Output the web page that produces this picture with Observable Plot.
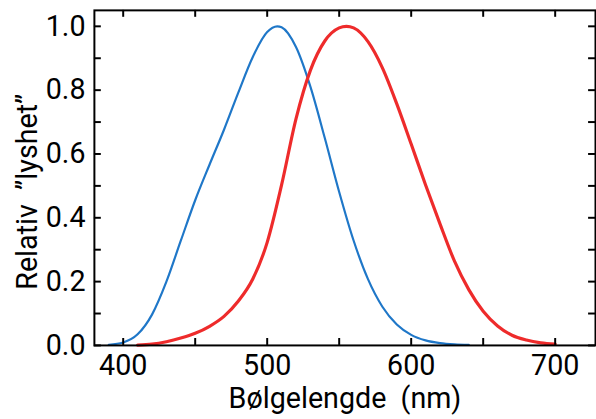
<!DOCTYPE html>
<html><head><meta charset="utf-8">
<script src="https://cdn.jsdelivr.net/npm/d3@7"></script>
<script src="https://cdn.jsdelivr.net/npm/@observablehq/plot@0.6"></script>
<style>
html,body{margin:0;padding:0;overflow:hidden;background:#fff;width:596px;height:419px}
</style>
</head><body><div id="chart"></div>
<script>
// Scotopic (blue) curve
const blueWavelengths = [390, 400, 410, 420, 430, 440, 450, 460, 470, 480, 490, 500, 507, 510, 520, 530, 540, 550, 560, 570, 580, 590, 600, 610, 620, 630, 640];
const scotopic = [0.0022, 0.0093, 0.0348, 0.0966, 0.1998, 0.3281, 0.455, 0.567, 0.676, 0.793, 0.904, 0.982, 1.0, 0.997, 0.935, 0.811, 0.650, 0.481, 0.3288, 0.2076, 0.1212, 0.0655, 0.0332, 0.0159, 0.0074, 0.0033, 0.0015];
// Photopic (red) curve
const redWavelengths = [410, 420, 430, 440, 450, 460, 470, 480, 490, 500, 510, 520, 530, 540, 550, 555, 560, 570, 580, 590, 600, 610, 620, 630, 640, 650, 660, 670, 680, 690, 700];
const photopic = [0.0012, 0.004, 0.0116, 0.023, 0.038, 0.060, 0.091, 0.139, 0.208, 0.323, 0.503, 0.710, 0.862, 0.954, 0.995, 1.0, 0.995, 0.952, 0.870, 0.757, 0.631, 0.503, 0.381, 0.265, 0.175, 0.107, 0.061, 0.032, 0.017, 0.0082, 0.0041];

const xTickLabels = [400, 500, 600, 700];
const xTickMarks = [400, 450, 500, 550, 600, 650, 700];
const yTickLabels = [0, 0.2, 0.4, 0.6, 0.8, 1.0];
const yTickMarks = [0, 0.1, 0.2, 0.3, 0.4, 0.5, 0.6, 0.7, 0.8, 0.9, 1.0];
const xTitle = "Bølgelengde\u00a0 (nm)";
const yTitle = "Relativ\u00a0 \u201dlyshet\u201d";

const blue = blueWavelengths.map((w, i) => ({w, v: scotopic[i]}));
const red = redWavelengths.map((w, i) => ({w, v: photopic[i]}));

const W = 603, H = 419, ML = 95, MR = 1, MT = 10, MB = 70;
const innerW = W - ML - MR, innerH = H - MT - MB;
const TICK = 7;
const FONT = 29;

const chart = Plot.plot({
  width: W, height: H,
  marginLeft: ML, marginRight: MR, marginTop: MT, marginBottom: MB,
  style: {fontFamily: "Roboto, 'Open Sans', sans-serif", fontSize: FONT + "px", color: "black", background: "white", overflow: "visible"},
  x: {domain: [380, 728]},
  y: {domain: [0, 1.05]},
  marks: [
    Plot.line(blue, {x: "w", y: "v", stroke: "#1f77c8", strokeWidth: 2.2, curve: "monotone-x"}),
    Plot.line(red, {x: "w", y: "v", stroke: "#ee2b2b", strokeWidth: 3.2, curve: "monotone-x"}),
    Plot.tickX(xTickMarks, {x: d => d, insetTop: innerH - TICK, stroke: "black", strokeWidth: 2}),
    Plot.tickX(xTickMarks, {x: d => d, insetBottom: innerH - TICK, stroke: "black", strokeWidth: 2}),
    Plot.tickY(yTickMarks, {y: d => d, insetRight: innerW - TICK, stroke: "black", strokeWidth: 2}),
    Plot.tickY(yTickMarks, {y: d => d, insetLeft: innerW - TICK, stroke: "black", strokeWidth: 2}),
    Plot.frame({stroke: "black", strokeWidth: 2}),
    Plot.axisX(xTickLabels, {tickSize: 0, tickPadding: 9, label: null, tickFormat: d => String(d), fontSize: FONT}),
    Plot.axisY(yTickLabels, {tickSize: 0, tickPadding: 9, label: null, tickFormat: d3.format(".1f"), fontSize: FONT}),
    Plot.text([xTitle], {frameAnchor: "bottom", textAnchor: "middle", lineAnchor: "middle", dy: 54, fontSize: FONT, fill: "black"}),
    Plot.text([yTitle], {frameAnchor: "left", textAnchor: "middle", lineAnchor: "middle", rotate: -90, dx: -67, dy: 14, fontSize: FONT, fill: "black"})
  ]
});
document.getElementById("chart").append(chart);
</script>
</body></html>
